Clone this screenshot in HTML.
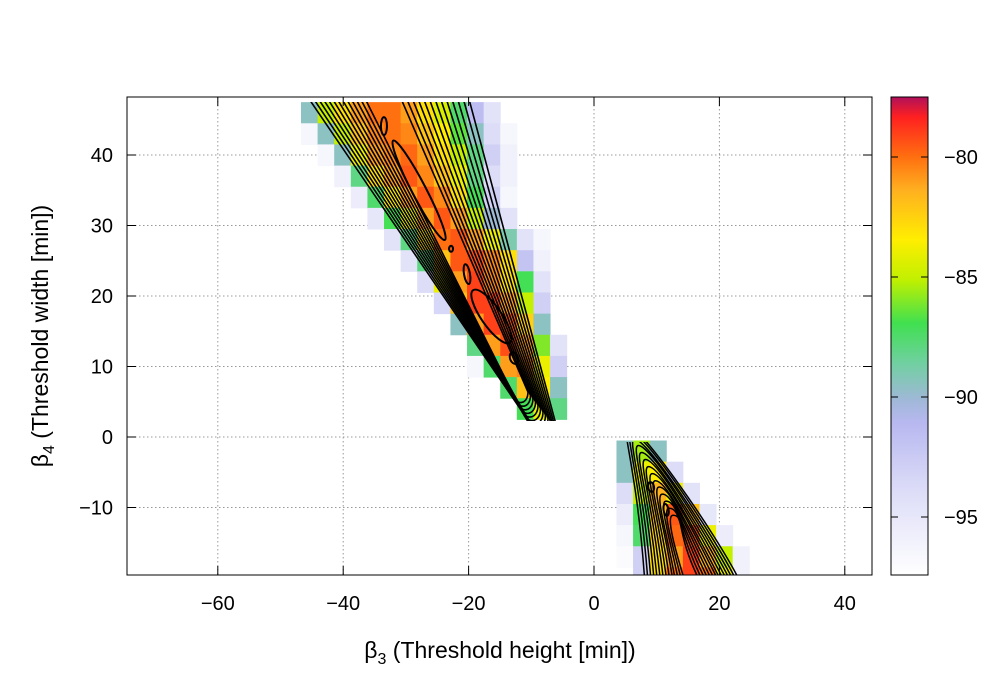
<!DOCTYPE html>
<html><head><meta charset="utf-8"><style>
html,body{margin:0;padding:0;background:#fff;}
svg{display:block;font-family:"Liberation Sans",sans-serif;}
</style></head><body>
<svg id="chart" width="1000" height="700" viewBox="0 0 1000 700">
<defs>
<clipPath id="plotClip"><rect x="127" y="97" width="745" height="478"/></clipPath>
<clipPath id="upClip"><rect x="127" y="102" width="745" height="319"/></clipPath>
<clipPath id="loClip"><rect x="127" y="442" width="745" height="133"/></clipPath>
<linearGradient id="cbGrad" x1="0" y1="0" x2="0" y2="1">
<stop offset="0" stop-color="#b0105a"/><stop offset="0.042" stop-color="#ff2020"/>
<stop offset="0.126" stop-color="#ff7010"/><stop offset="0.195" stop-color="#ffb020"/>
<stop offset="0.299" stop-color="#ffee00"/><stop offset="0.383" stop-color="#c0f000"/>
<stop offset="0.473" stop-color="#40e050"/><stop offset="0.556" stop-color="#70d0a0"/>
<stop offset="0.634" stop-color="#a0b8d8"/><stop offset="0.682" stop-color="#b8b8f0"/>
<stop offset="0.822" stop-color="#dcdcf8"/><stop offset="1" stop-color="#ffffff"/>
</linearGradient>
</defs>
<g id="grid"></g>
<g id="cells" clip-path="url(#plotClip)"></g>
<g id="contUp" clip-path="url(#upClip)"></g>
<g id="contLo" clip-path="url(#loClip)"></g>
<g id="loops" clip-path="url(#plotClip)"></g>
<rect x="127" y="97" width="745" height="478" fill="none" stroke="#000" stroke-width="1"/>
<g id="ticks"></g>
<text x="500" y="658" text-anchor="middle" font-size="23">β<tspan font-size="16" dy="6">3</tspan><tspan dy="-6"> (Threshold height [min])</tspan></text>
<text transform="translate(48,336) rotate(-90)" text-anchor="middle" font-size="23">β<tspan font-size="16" dy="6">4</tspan><tspan dy="-6"> (Threshold width [min])</tspan></text>
<rect x="891" y="97" width="37" height="478" fill="url(#cbGrad)" stroke="#000" stroke-width="1"/>
<g id="cbTicks"></g>
</svg>
<script>
const xTicks=[-60,-40,-20,0,20,40];
const yTicks=[-10,0,10,20,30,40];
const cbTicks=[-80,-85,-90,-95];
const colStart=-46.73, colStep=2.648, rowStep=3;
const heatRowTop=[47.5,44.5,41.5,38.5,35.5,32.5,29.5,26.5,23.5,20.5,17.5,14.5,11.5,8.5,5.5,-0.5,-3.5,-6.5,-9.5,-12.5,-15.5,-18.5];
const heatRowStart=[0,0,1,2,3,4,5,6,7,8,9,10,10,12,13,19,19,19,19,19,19,20];
const heatRowValues=[
[-89.5,-85,-83,-81,-80,-80,-81,-83,-84.5,-87.5,-91.5,-94.5],
[-96.5,-89.5,-85,-82,-80.5,-80,-80.5,-82,-83.5,-86.5,-89.5,-94,-96.5],
[-96.5,-89.5,-84,-81,-80.5,-79.8,-81,-83,-85,-88,-93,-96],
[-96,-88,-83,-81,-79.5,-80.5,-82,-84,-88,-94,-96],
[-95.5,-87.5,-83.5,-81,-79.5,-80.5,-83,-87,-93,-96.5],
[-95,-87,-84,-81,-79.5,-81,-85,-90,-94.5],
[-94.5,-88,-83,-80,-79.5,-81,-84,-89,-94.5,-96.5],
[-94.5,-88,-82,-79.5,-79.3,-80.5,-83,-92,-96],
[-94,-84,-81,-79,-80.5,-83,-87,-94.5],
[-93.5,-82,-79,-79,-81,-85,-93],
[-89.5,-81,-79,-79.5,-82.5,-89.5],
[-88,-81,-79.3,-81,-86,-94.5],
[-96.5,-87.5,-81,-80.5,-84,-93],
[-87.5,-82,-83.5,-89.5],
[-87,-84,-88],
[-89.5,-85.5,-89.5],
[-89.5,-84,-83.5,-94],
[-94,-85,-81.5,-84,-94.5],
[-95.5,-87,-82,-79.5,-82,-95],
[-96.5,-87.5,-82.5,-79.8,-79.5,-84,-95.5],
[-97,-93,-83,-81,-79,-81.5,-85,-96],
[-93,-83,-80,-79,-80,-84,-96]];
const upperLeftTop=[-46.25,-45.49,-44.72,-43.96,-43.19,-42.42,-41.66,-40.89,-40.13,-39.36,-38.60,-37.83,-37.07];
const upperLeftBot=[-9.25,-9.57,-9.89,-10.21,-10.53,-10.85,-11.16,-11.48,-11.80,-12.12,-12.44,-12.76,-13.08];
const upperRightTop=[-20.26,-21.17,-22.09,-23.01,-23.93,-24.84,-25.76,-26.68,-27.60,-28.52,-29.43,-30.35,-31.27];
const upperRightBot=[-5.74,-6.14,-6.54,-6.94,-7.34,-7.74,-8.13,-8.53,-8.93,-9.33,-9.73,-10.13,-10.53];
const upperTurnY=[0.71,1.18,1.66,2.13,2.60,3.08,3.55,4.01,4.48,4.96,5.43,5.90,6.38];
const lowerBL=[8.1,8.6,9.1,9.6,10.1,10.6,11.1,11.6,12.1,12.6,13.0,13.5,14.0,14.5];
const lowerBR=[23.3,22.8,22.3,21.8,21.3,20.8,20.3,19.9,19.4,18.9,18.4,17.9,17.4,16.9];
const lowerApexX=[5.4,6.0,6.5,7.1,7.6,8.2,8.7,9.3,9.8,10.4,10.9,11.5,12.0,12.6];
const lowerApexY=[1.7,0.7,-0.3,-1.2,-2.2,-3.2,-4.2,-5.2,-6.2,-7.1,-8.1,-9.1,-10.1,-11.1];
const loopCx=[-27.9,-16.35,-33.5,-20.25,-12.76,-22.8,9.1,11.5];
const loopCy=[35.0,17.1,44.1,23.1,11.2,26.7,-7.1,-10.35];
const loopRx=[56,32,3,3,4,2,3,2.5];
const loopRy=[7,10,9,10,6,3,5,6];
const loopRot=[62.5,55,0,-10,-20,0,-10,-10];

const NS='http://www.w3.org/2000/svg';
const X=v=>594+v*6.27, Y=v=>437-v*7.05, CB=v=>97+(-77.5-v)*24;
const cStops=[[-77.5,[176,16,90]],[-78.3,[255,32,32]],[-80,[255,112,16]],[-81.4,[255,176,32]],[-83.5,[255,238,0]],[-85.1,[192,240,0]],[-86.9,[64,224,80]],[-88.6,[112,208,160]],[-90.1,[160,184,216]],[-91.1,[184,184,240]],[-93.9,[220,220,248]],[-97.4,[255,255,255]]];
function cmap(v){
  for(let i=0;i<cStops.length-1;i++){const a=cStops[i],b=cStops[i+1];
    if(v<=a[0]&&v>=b[0]){const t=(a[0]-v)/(a[0]-b[0]);return 'rgb('+a[1].map((c,k)=>Math.round(c+(b[1][k]-c)*t)).join(',')+')';}}
  return v>-77.5?'rgb(176,16,90)':'#fff';
}
function mk(tag,attrs,parent){const e=document.createElementNS(NS,tag);for(const k in attrs)e.setAttribute(k,attrs[k]);parent.appendChild(e);return e;}
const grid=document.getElementById('grid'),ticks=document.getElementById('ticks');
xTicks.forEach(t=>{
  const l=mk('line',{x1:X(t),x2:X(t),y1:97,y2:575,stroke:'#999','stroke-dasharray':'1.5,2.5'},grid);
  
  
  [[575,566],[97,106]].forEach(p=>{const tk=mk('line',{x1:X(t),x2:X(t),y1:p[0],y2:p[1],stroke:'#000'},ticks);
    
    });
  const tx=mk('text',{x:X(t),y:610,'text-anchor':'middle','font-size':'20'},ticks);
  tx.textContent=(t<0?'\u2212'+(-t):t);
  
  
});
yTicks.forEach(t=>{
  const l=mk('line',{x1:127,x2:872,y1:Y(t),y2:Y(t),stroke:'#999','stroke-dasharray':'1.5,2.5'},grid);
  
  
  [[127,136],[872,863]].forEach(p=>{const tk=mk('line',{x1:p[0],x2:p[1],y1:Y(t),y2:Y(t),stroke:'#000'},ticks);
    
    });
  const tx=mk('text',{x:113,y:Y(t)+7,'text-anchor':'end','font-size':'20'},ticks);
  tx.textContent=(t<0?'\u2212'+(-t):t);
  
  
});
const cells=document.getElementById('cells');
heatRowValues.forEach((row,r)=>{
  row.forEach((v,j)=>{
    const c=heatRowStart[r]+j;
    const x0=X(colStart+c*colStep),x1=X(colStart+(c+1)*colStep);
    const y0=Y(heatRowTop[r]),y1=Y(heatRowTop[r]-rowStep);
    const rc=mk('rect',{x:x0,y:y0,width:x1-x0+0.5,height:y1-y0+0.5,fill:cmap(v)},cells);
    
    
  });
});
const cu=document.getElementById('contUp');
upperLeftTop.forEach((lt,i)=>{
  const xl=X(lt),xr=X(upperRightTop[i]),yt=Y(49);
  const xlb=X(upperLeftBot[i]),xrb=X(upperRightBot[i]),ty=Y(upperTurnY[i]);
  const d0=(xrb-xlb)*0.75+2;
  const p=mk('path',{d:`M${xl},${yt} L${xlb},${ty} C${xlb+2},${ty+d0} ${xrb},${ty+d0} ${xrb},${ty} L${xr},${yt}`,fill:'none',stroke:'#000','stroke-width':'1.6'},cu);
  
  
});
const cl=document.getElementById('contLo');
lowerBL.forEach((bl,i)=>{
  const xb=X(bl),xr=X(lowerBR[i]),yb=Y(-20.5),ax=X(lowerApexX[i]),ay=Y(lowerApexY[i]);
  const d=`M${xb},${yb} C${xb-8},${ay+40} ${ax-8},${ay} ${ax},${ay} C${ax+12},${ay} ${xr-25},${yb-50} ${xr},${yb}`;
  const p=mk('path',{d:d,fill:'none',stroke:'#000','stroke-width':'1.5'},cl);
  
  
});
const lp=document.getElementById('loops');
loopCx.forEach((cx,i)=>{
  const px=X(cx),py=Y(loopCy[i]);
  const e=mk('ellipse',{cx:px,cy:py,rx:loopRx[i],ry:loopRy[i],fill:'none',stroke:'#000','stroke-width':'2',transform:`rotate(${loopRot[i]} ${px} ${py})`},lp);
  
  
});
const cbt=document.getElementById('cbTicks');
cbTicks.forEach(t=>{
  const y=CB(t);
  [[891,898],[928,921]].forEach(p=>{const l=mk('line',{x1:p[0],x2:p[1],y1:y,y2:y,stroke:'#000'},cbt);
    
    });
  const tx=mk('text',{x:944,y:y+7,'font-size':'20'},cbt);
  tx.textContent='\u2212'+(-t);
  
  
});
</script>
</body></html>
